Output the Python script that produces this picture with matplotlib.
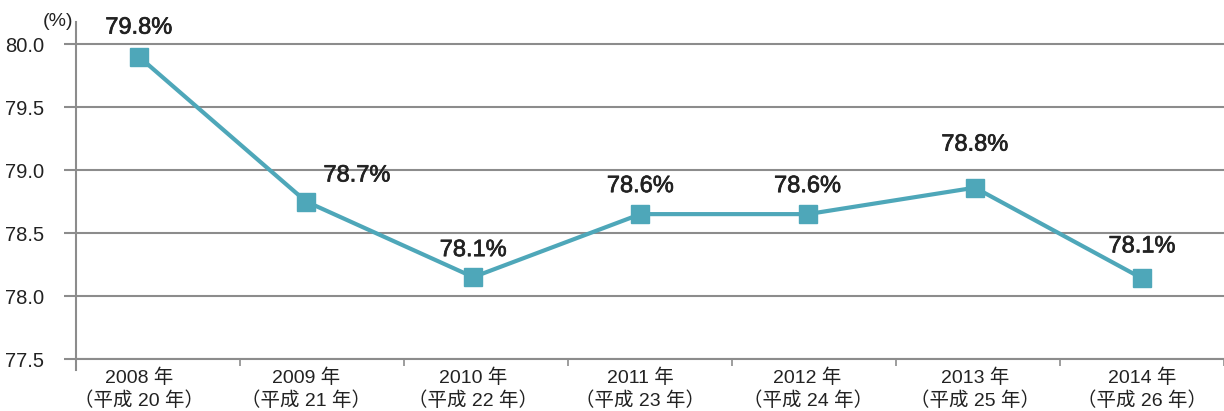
import numpy as np
import matplotlib.pyplot as plt
import matplotlib.patheffects as pe

plt.rcParams['font.family'] = ['Liberation Sans', 'Noto Sans CJK JP']

# data
years = ['2008', '2009', '2010', '2011', '2012', '2013', '2014']
heisei = ['20', '21', '22', '23', '24', '25', '26']
values = [79.90, 78.75, 78.15, 78.65, 78.65, 78.86, 78.14]
labels = ['79.8%', '78.7%', '78.1%', '78.6%', '78.6%', '78.8%', '78.1%']
# label offsets in pixels (dx, dy)
offsets = [(0, 29), (51, 26), (0, 27), (0, 28), (0, 28), (0, 43), (0, 32)]

teal = '#4ea7b9'
grey = '#8c8c8c'
ink = '#222222'

fig = plt.figure(figsize=(12.24, 4.11), dpi=100)
ax = fig.add_axes([76/1224, 1 - 359/411, (1224 - 76)/1224, (359 - 22)/411])

x = np.arange(len(years))
ax.plot(x, values, color=teal, lw=3, marker='s', markersize=13, zorder=3)

for xi, v, lab, (dx, dy) in zip(x, values, labels, offsets):
    ax.annotate(lab, (xi, v), xytext=(dx, dy), textcoords='offset pixels',
                ha='center', va='center', fontsize=17, color=ink,
                path_effects=[pe.withStroke(linewidth=0.5, foreground=ink)])

ax.set_ylim(77.5, 80.175)
yt = np.arange(77.5, 80.01, 0.5)
ax.set_yticks(yt)
ax.set_yticklabels([f'{t:.1f}' for t in yt], fontsize=14.5, color=ink)
ax.grid(axis='y', color=grey, lw=1.5)
ax.set_axisbelow(True)

xmin, xmax = -0.376, 6.49
ax.set_xlim(xmin, xmax)
ax.set_xticks(x)
ax.set_xticklabels([f'{y} 年\n（平成 {h} 年）' for y, h in zip(years, heisei)],
                   fontsize=14, color=ink, linespacing=1.3)
ax.tick_params(axis='x', which='major', length=0, pad=7)
ax.set_xticks(np.linspace(xmin, xmax, 8)[1:], minor=True)
ax.tick_params(axis='x', which='minor', length=5, width=1.2, color=grey, direction='out')
ax.tick_params(axis='y', length=9, width=1.5, color=grey, direction='out', pad=14)

for s in ['top', 'right']:
    ax.spines[s].set_visible(False)
ax.spines['bottom'].set_color(grey)
ax.spines['bottom'].set_linewidth(1.5)
ax.spines['left'].set_color(grey)
ax.spines['left'].set_linewidth(1.5)
ax.spines['left'].set_bounds(77.41, 80.175)

fig.text(58/1224, 1 - 22/411, '(%)', ha='center', va='center', fontsize=14, color=ink)

fig.savefig('out.png', dpi=100)
